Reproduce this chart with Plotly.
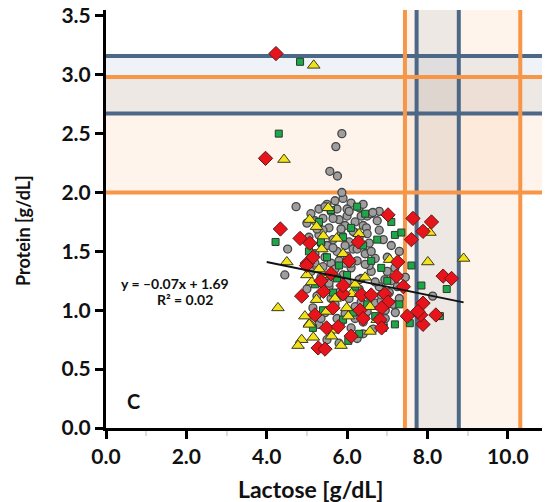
import plotly.graph_objects as go

# ---------------- data ----------------
gray_x = [5.3, 5.5, 5.7, 5.9, 6.1, 6.3, 5.1, 6.5, 4.73, 5.6, 6.0, 6.6, 6.8,
          5.0, 5.2, 5.4, 5.8, 6.2, 6.4, 6.64, 6.48, 6.8, 5.55, 5.95,
          5.05, 5.3, 5.65, 5.85, 6.05, 6.3, 6.55, 6.9, 7.1, 4.52, 5.5,
          5.2, 5.45, 5.75, 6.0, 6.25, 6.45, 6.7, 7.0, 7.3, 5.6, 6.15,
          4.45, 5.1, 5.35, 5.7, 5.9, 6.1, 6.35, 6.6, 6.94, 7.19, 7.45,
          5.0, 5.25, 5.55, 5.8, 6.05, 6.3, 6.55, 6.8, 7.05, 7.3, 8.13,
          5.15, 5.45, 5.7, 5.95, 6.2, 6.45, 6.7, 6.95, 7.2,
          5.3, 5.6, 5.85, 6.1, 6.4, 6.65, 6.9,
          5.5, 5.8, 6.25,
          5.87, 5.72, 5.57, 5.76, 5.87,
          5.4, 5.65, 6.0, 6.2, 6.4, 6.75, 5.35, 5.95, 6.55, 7.1, 5.5, 6.85,
          5.45, 5.75, 6.05, 6.35, 5.25, 5.85, 6.15, 6.5, 5.65, 5.95, 6.25, 6.6,
          5.4, 5.8, 6.1, 6.45, 5.55, 6.0, 6.3, 6.7, 7.0, 7.25, 6.85, 5.2,
          5.6, 6.2, 6.5, 5.9, 6.35, 6.95, 7.15, 5.35, 5.75, 6.4]
gray_y = [1.86, 1.90, 1.93, 1.95, 1.91, 1.87, 1.82, 1.80, 1.88, 1.84, 1.86, 1.82, 1.84,
          1.74, 1.76, 1.78, 1.77, 1.75, 1.72, 1.83, 1.70, 1.68, 1.70, 1.72,
          1.62, 1.64, 1.60, 1.65, 1.58, 1.62, 1.57, 1.60, 1.55, 1.52, 1.55,
          1.48, 1.45, 1.50, 1.46, 1.42, 1.48, 1.44, 1.45, 1.50, 1.40, 1.52,
          1.30, 1.33, 1.28, 1.35, 1.30, 1.36, 1.27, 1.33, 1.26, 1.36, 1.28,
          1.18, 1.12, 1.20, 1.15, 1.10, 1.18, 1.12, 1.20, 1.15, 1.10, 1.12,
          1.02, 0.98, 1.05, 0.97, 1.03, 0.96, 1.06, 1.00, 0.98,
          0.88, 0.83, 0.90, 0.85, 0.90, 0.84, 0.88,
          0.75, 0.72, 0.76,
          2.50, 2.39, 2.18, 2.14, 2.00,
          1.68, 1.78, 1.80, 1.66, 1.90, 1.76, 1.57, 1.40, 1.38, 1.25, 1.25, 1.08,
          1.88, 1.86, 1.84, 1.80, 1.69, 1.69, 1.67, 1.65, 1.53, 1.55, 1.52, 1.50,
          1.37, 1.42, 1.40, 1.39, 1.23, 1.24, 1.26, 1.24, 1.33, 1.20, 1.13, 1.40,
          1.10, 0.93, 0.99, 1.12, 1.07, 0.93, 1.05, 0.93, 0.93, 0.80]

green_x = [4.83, 4.30, 4.22, 5.3, 5.6, 5.9, 6.1, 6.4, 5.5, 5.8, 6.0, 6.6, 6.85,
           5.2, 5.65, 6.2, 6.5, 5.4, 5.9, 6.3, 6.7, 6.03, 7.19, 7.35, 7.6,
           7.85, 8.48, 8.31, 7.19, 7.56, 7.0, 6.9, 5.05, 5.15, 7.3, 6.75,
           6.25, 7.1, 5.75, 6.45, 5.35, 6.15]
green_y = [3.11, 2.50, 1.58, 1.75, 1.85, 1.62, 1.70, 1.55, 1.45, 1.38, 1.30, 1.42, 1.36,
           1.22, 1.15, 1.20, 1.05, 1.00, 0.92, 0.80, 0.95, 0.74, 1.64, 1.66, 1.38,
           1.21, 1.18, 0.95, 0.88, 0.89, 1.25, 0.85, 1.50, 0.85, 1.05, 1.60,
           1.88, 1.75, 1.27, 1.82, 1.58, 0.98]

yellow_x = [5.17, 4.43, 4.28, 4.50, 5.53, 5.07, 5.24, 5.41, 5.74, 5.12, 5.24, 5.70,
            5.99, 5.49, 5.07, 5.65, 4.87, 5.61, 6.57, 6.03, 6.11, 5.16, 5.06,
            4.78, 6.57, 5.37, 7.06, 8.06, 8.01, 8.90, 6.45, 5.90, 5.30, 6.30,
            5.85, 4.95, 6.75, 5.55, 6.20, 5.00]
yellow_y = [3.08, 2.28, 1.02, 1.41, 1.87, 1.77, 1.71, 1.63, 1.61, 1.24, 1.09, 1.10,
            1.02, 0.99, 0.89, 0.83, 0.75, 0.78, 0.82, 0.95, 1.14, 0.77, 0.88,
            0.70, 1.03, 1.52, 1.43, 1.66, 1.41, 1.44, 1.28, 1.48, 1.35, 1.65,
            0.70, 0.95, 0.92, 1.30, 1.22, 1.30]

red_x = [4.23, 3.97, 4.34, 4.83, 5.07, 5.01, 6.28, 5.41, 4.87, 5.90, 5.20, 5.49,
         5.78, 5.28, 5.45, 6.32, 6.40, 5.90, 6.36, 6.60, 6.94, 7.02, 6.86, 6.82,
         6.86, 5.60, 7.02, 7.64, 8.10, 7.89, 7.60, 7.26, 7.23, 8.39, 8.60, 8.21,
         7.89, 7.83, 7.89, 7.76, 7.40, 7.50, 5.15, 5.65, 6.10, 5.35, 6.05, 4.99]
red_y = [3.18, 2.29, 1.69, 1.61, 1.57, 1.40, 1.58, 1.16, 1.12, 1.14, 0.96, 0.85,
         0.86, 0.68, 0.67, 1.00, 0.93, 1.21, 1.13, 1.13, 1.14, 1.07, 1.02, 0.92,
         0.85, 1.31, 1.81, 1.78, 1.75, 1.67, 1.60, 1.41, 1.29, 1.29, 1.27, 0.96,
         0.88, 0.96, 1.06, 0.99, 1.20, 0.95, 1.45, 1.02, 0.78, 1.25, 1.42, 1.38]

trend_x = [4.0, 8.9]
trend_slope = -0.07
trend_icept = 1.69

x_ticks = [0, 2, 4, 6, 8, 10]
x_tick_labels = ["0.0", "2.0", "4.0", "6.0", "8.0", "10.0"]
y_ticks = [0, 0.5, 1.0, 1.5, 2.0, 2.5, 3.0, 3.5]
y_tick_labels = ["0.0", "0.5", "1.0", "1.5", "2.0", "2.5", "3.0", "3.5"]

# reference ranges (lines / bands)
orange_x = [7.44, 10.31]
blue_x = [7.73, 8.78]
orange_y = [2.00, 2.98]
blue_y = [2.67, 3.16]

X_MAX = 11.05
Y_MAX = 3.55

ORANGE = "#F79646"
BLUE = "#4C6886"
ORANGE_FILL = "rgba(247,150,70,0.10)"
BLUE_FILL = "rgba(95,125,170,0.10)"
FONT = "Lato"

fig = go.Figure()

fig.add_trace(go.Scatter(x=gray_x, y=gray_y, mode="markers",
                         marker=dict(symbol="circle", size=8, color="#9E9E9E", line=dict(color="#454545", width=1.3)),
                         showlegend=False, hoverinfo="skip"))
fig.add_trace(go.Scatter(x=green_x, y=green_y, mode="markers",
                         marker=dict(symbol="square", size=7, color="#1EA64A", line=dict(color="#2a3a2a", width=1)),
                         showlegend=False, hoverinfo="skip"))
fig.add_trace(go.Scatter(x=yellow_x, y=yellow_y, mode="markers",
                         marker=dict(symbol="triangle-up", size=11, color="#F2E21B", line=dict(color="#3a3a1a", width=1)),
                         showlegend=False, hoverinfo="skip"))
fig.add_trace(go.Scatter(x=red_x, y=red_y, mode="markers",
                         marker=dict(symbol="diamond", size=11, color="#E8141B", line=dict(color="#5a1a1a", width=1)),
                         showlegend=False, hoverinfo="skip"))

fig.add_trace(go.Scatter(x=trend_x, y=[trend_slope * v + trend_icept for v in trend_x],
                         mode="lines", line=dict(color="#111111", width=2),
                         showlegend=False, hoverinfo="skip"))

shapes = []
# bands
shapes.append(dict(type="rect", layer="below", xref="x", yref="y", x0=orange_x[0], x1=orange_x[1], y0=0, y1=Y_MAX,
                   fillcolor=ORANGE_FILL, line=dict(width=0)))
shapes.append(dict(type="rect", layer="below", xref="x", yref="y", x0=blue_x[0], x1=blue_x[1], y0=0, y1=Y_MAX,
                   fillcolor=BLUE_FILL, line=dict(width=0)))
shapes.append(dict(type="rect", layer="below", xref="x", yref="y", x0=0, x1=X_MAX, y0=orange_y[0], y1=orange_y[1],
                   fillcolor=ORANGE_FILL, line=dict(width=0)))
shapes.append(dict(type="rect", layer="below", xref="x", yref="y", x0=0, x1=X_MAX, y0=blue_y[0], y1=blue_y[1],
                   fillcolor=BLUE_FILL, line=dict(width=0)))
# lines
for v in blue_y:
    shapes.append(dict(type="line", layer="below", xref="x", yref="y", x0=0, x1=X_MAX, y0=v, y1=v,
                       line=dict(color=BLUE, width=4)))
for v in blue_x:
    shapes.append(dict(type="line", layer="below", xref="x", yref="y", x0=v, x1=v, y0=0, y1=Y_MAX,
                       line=dict(color=BLUE, width=4)))
for v in orange_y:
    shapes.append(dict(type="line", layer="below", xref="x", yref="y", x0=0, x1=X_MAX, y0=v, y1=v,
                       line=dict(color=ORANGE, width=4)))
for v in orange_x:
    shapes.append(dict(type="line", layer="below", xref="x", yref="y", x0=v, x1=v, y0=0, y1=Y_MAX,
                       line=dict(color=ORANGE, width=4)))

# positions given in page pixels of the 550x502 window
annotations = [
    dict(x=119, y=283, text="y = –0.07x + 1.69", size=14, xanchor="left", angle=0),
    dict(x=185, y=299, text="R² = 0.02", size=14, xanchor="center", angle=0),
    dict(x=133, y=401, text="C", size=20, xanchor="center", angle=0),
    dict(x=310, y=489, text="Lactose [g/dL]", size=23, xanchor="center", angle=0),
    dict(x=23, y=231, text="Protein [g/dL]", size=18, xanchor="center", angle=-90),
]

# the page body has an 8px margin: offset the figure so the plot lands where the reference has it
OFF = 8
W, H = 550 - OFF, 502 - OFF
L, R, T, B = 106 - OFF, 0, 10 - OFF, 74
pw, ph = W - L - R, H - T - B
ann = []
for a in annotations:
    ann.append(dict(x=(a["x"] - OFF - L) / pw, y=(H - B - (a["y"] - OFF)) / ph,
                    xref="paper", yref="paper", text=a["text"], showarrow=False, textangle=a["angle"],
                    font=dict(family=FONT, size=a["size"], color="#111111", weight="bold"),
                    xanchor=a["xanchor"], yanchor="middle"))

fig.update_layout(
    width=W, height=H,
    margin=dict(l=L, r=R, t=T, b=B, autoexpand=False),
    paper_bgcolor="white", plot_bgcolor="white",
    shapes=shapes, annotations=ann,
    font=dict(family=FONT, color="#111111"),
    xaxis=dict(range=[0, X_MAX], tickvals=x_ticks, ticktext=x_tick_labels,
               showgrid=False, zeroline=False, showline=True, linecolor="black", linewidth=3,
               ticks="outside", ticklen=8, tickwidth=3, tickcolor="black", ticklabeloverflow="allow",
               tickfont=dict(family=FONT, size=21, color="#111111", weight="bold"),
               minor=dict(tickvals=[1, 3, 5, 7, 9], ticks="outside", ticklen=5, tickwidth=2, tickcolor="#dddddd")),
    yaxis=dict(range=[0, Y_MAX], tickvals=y_ticks, ticktext=y_tick_labels,
               showgrid=False, zeroline=False, showline=True, linecolor="black", linewidth=3,
               ticks="outside", ticklen=8, tickwidth=3, tickcolor="black", ticklabeloverflow="allow",
               tickfont=dict(family=FONT, size=21, color="#111111", weight="bold")),
)

fig.write_html("out.html")
